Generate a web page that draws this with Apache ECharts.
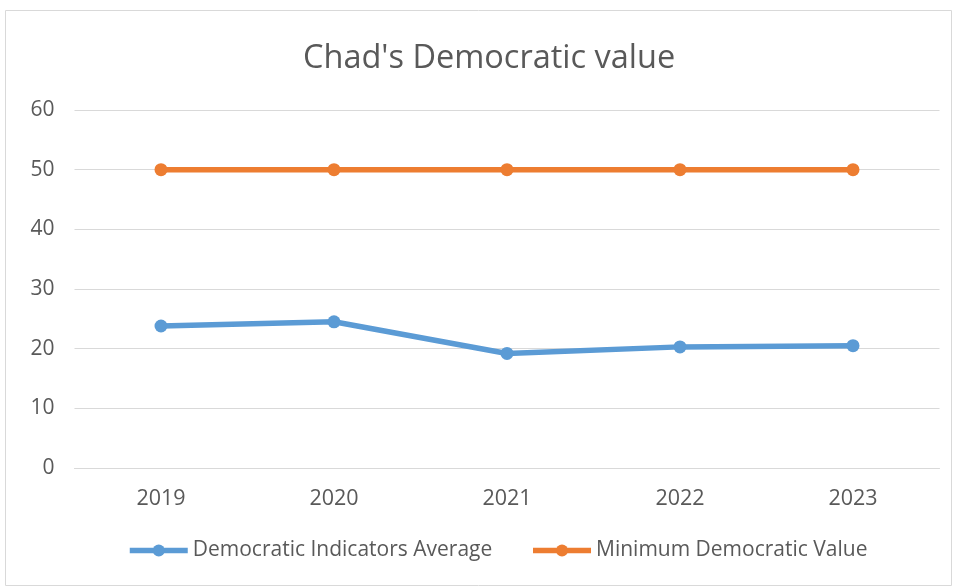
<!DOCTYPE html>
<html>
<head>
<meta charset="utf-8">
<script src="https://cdn.jsdelivr.net/npm/echarts@6/dist/echarts.min.js"></script>
<style>
  html, body { margin: 0; padding: 0; background: #fff; }
  #main { width: 957px; height: 586px; }
</style>
</head>
<body>
<div id="main"></div>
<script>
var years = ['2019', '2020', '2021', '2022', '2023'];
var indicatorsAvg = [23.8, 24.5, 19.2, 20.3, 20.5];
var minimumValue = [50, 50, 50, 50, 50];

var font = 'Open Sans, Noto Sans, sans-serif';

var myChart = echarts.init(document.getElementById('main'));
var option = {
  animation: false,
  title: {
    text: "Chad's Democratic value",
    left: 298,
    top: 37,
    textStyle: { fontSize: 32.5, fontWeight: 'normal', color: '#595959', fontFamily: font }
  },
  graphic: [{
    type: 'rect',
    shape: { x: 5.5, y: 10.5, width: 946, height: 575 },
    style: { fill: 'none', stroke: '#d9d9d9', lineWidth: 1 },
    silent: true
  }],
  legend: {
    bottom: 20,
    left: 122,
    itemWidth: 58,
    itemHeight: 15,
    itemGap: 38,
    lineStyle: { width: 5.5 },
    textStyle: { fontSize: 21, color: '#595959', fontFamily: font },
    data: ['Democratic Indicators Average', 'Minimum Democratic Value']
  },
  grid: { left: 74.5, right: 17.5, top: 110, bottom: 118, containLabel: false },
  xAxis: {
    type: 'category',
    data: years,
    boundaryGap: true,
    axisLine: { lineStyle: { color: '#d9d9d9', width: 1 } },
    axisTick: { show: false },
    axisLabel: { fontSize: 21.5, color: '#595959', margin: 20, fontFamily: font }
  },
  yAxis: {
    type: 'value',
    min: 0,
    max: 60,
    interval: 10,
    axisLine: { show: false },
    axisTick: { show: false },
    axisLabel: { fontSize: 21, color: '#595959', margin: 20, fontFamily: font },
    splitLine: { lineStyle: { color: '#d9d9d9', width: 1 } }
  },
  series: [{
    name: 'Democratic Indicators Average',
    type: 'line',
    data: indicatorsAvg,
    symbol: 'circle',
    symbolSize: 13,
    lineStyle: { width: 5.5, color: '#5b9bd5' },
    itemStyle: { color: '#5b9bd5' }
  }, {
    name: 'Minimum Democratic Value',
    type: 'line',
    data: minimumValue,
    symbol: 'circle',
    symbolSize: 13,
    lineStyle: { width: 5.5, color: '#ed7d31' },
    itemStyle: { color: '#ed7d31' }
  }]
};
myChart.setOption(option);
</script>
</body>
</html>
